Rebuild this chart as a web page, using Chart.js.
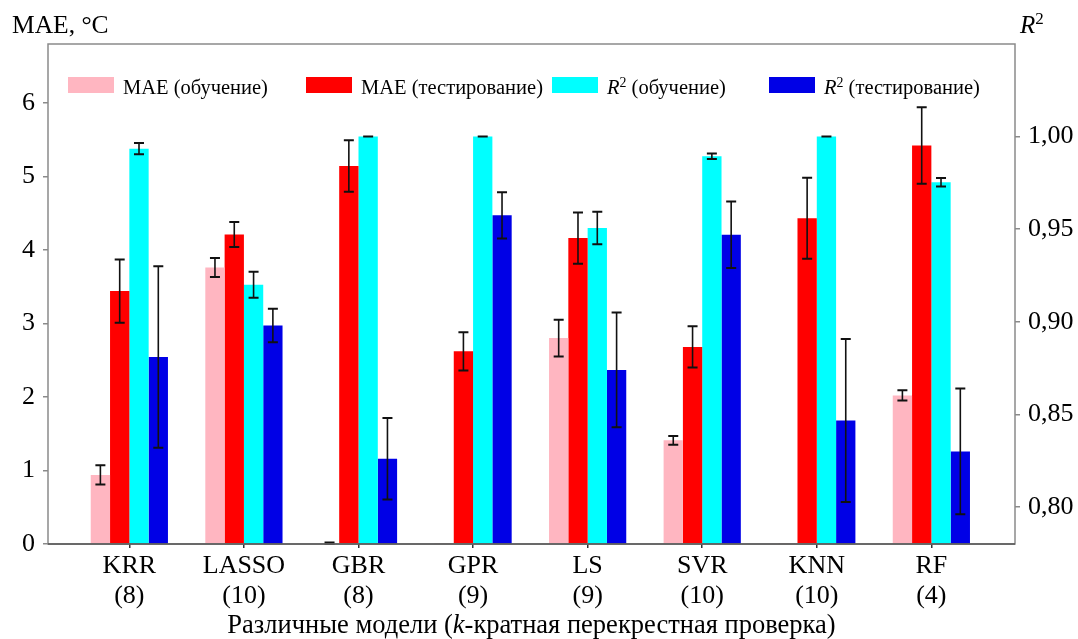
<!DOCTYPE html>
<html>
<head>
<meta charset="utf-8">
<script src="https://cdn.jsdelivr.net/npm/chart.js@4.4.0/dist/chart.umd.min.js"></script>
<style>
html, body { margin: 0; padding: 0; background: #fff; }
#wrap { width: 1078px; height: 639px; position: relative; }
</style>
</head>
<body>
<div id="wrap"><canvas id="modelChart"></canvas></div>
<script>
// models and k for the k-fold cross validation
const models = ['KRR', 'LASSO', 'GBR', 'GPR', 'LS', 'SVR', 'KNN', 'RF'];
const kFolds = ['(8)', '(10)', '(8)', '(9)', '(9)', '(10)', '(10)', '(4)'];

// MAE, °C (left axis)
const maeTrain    = [0.94, 3.76, 0.01, 0.003, 2.80, 1.41, 0.003, 2.02];
const maeTrainErr = [0.13, 0.13, 0.01, null, 0.25, 0.06, null, 0.07];
const maeTest     = [3.44, 4.21, 5.14, 2.62, 4.16, 2.68, 4.43, 5.42];
const maeTestErr  = [0.43, 0.17, 0.35, 0.26, 0.35, 0.28, 0.55, 0.52];

// R2 (right axis)
const r2Train    = [0.9935, 0.920, 1.000, 1.000, 0.9506, 0.9894, 1.000, 0.9753];
const r2TrainErr = [0.003, 0.007, 0, 0, 0.0088, 0.0015, 0, 0.0023];
const r2Test     = [0.881, 0.898, 0.826, 0.9575, 0.874, 0.947, 0.8467, 0.830];
const r2TestErr  = [0.049, 0.009, 0.022, 0.0125, 0.031, 0.018, 0.044, 0.034];

const maeTicks = [0, 1, 2, 3, 4, 5, 6];
const r2Ticks = [0.80, 0.85, 0.90, 0.95, 1.00];

// *italic*  ^superscript^
const seriesLabels = ['MAE (обучение)', 'MAE (тестирование)', '*R*^2^ (обучение)', '*R*^2^ (тестирование)'];
const seriesColors = ['#ffb6c1', '#ff0000', '#00ffff', '#0000e6'];
const leftTitle = 'MAE, °C';
const rightTitle = '*R*^2^';
const bottomTitle = 'Различные модели (*k*-кратная перекрестная проверка)';

const serif = '"Liberation Serif", "Times New Roman", serif';

function points(values) {
	return values.map((v, i) => ({ x: i, y: v }));
}

function parseRich(text) {
	const runs = [];
	let italic = false, sup = false, buf = '';
	for (const ch of text) {
		if (ch === '*' || ch === '^') {
			if (buf) runs.push({ text: buf, italic: italic, sup: sup });
			buf = '';
			if (ch === '*') italic = !italic; else sup = !sup;
		} else {
			buf += ch;
		}
	}
	if (buf) runs.push({ text: buf, italic: italic, sup: sup });
	return runs;
}

function richFont(run, size) {
	return (run.italic ? 'italic ' : '') + (run.sup ? size * 0.68 : size).toFixed(1) + 'px ' + serif;
}

function richWidth(ctx, text, size) {
	let w = 0;
	parseRich(text).forEach(r => { ctx.font = richFont(r, size); w += ctx.measureText(r.text).width; });
	return w;
}

function drawRich(ctx, text, x, y, size, align) {
	if (align === 'center') x -= richWidth(ctx, text, size) / 2;
	ctx.textAlign = 'left';
	ctx.textBaseline = 'alphabetic';
	ctx.fillStyle = '#000';
	parseRich(text).forEach(r => {
		ctx.font = richFont(r, size);
		ctx.fillText(r.text, x, r.sup ? y - size * 0.36 : y);
		x += ctx.measureText(r.text).width;
	});
}

const decorPlugin = {
	id: 'decor',
	afterDatasetsDraw(chart) {
		const ctx = chart.ctx;
		const a = chart.chartArea;
		ctx.save();

		// error bars
		ctx.strokeStyle = '#111';
		chart.data.datasets.forEach((ds, i) => {
			const meta = chart.getDatasetMeta(i);
			const scale = chart.scales[ds.yAxisID];
			meta.data.forEach((bar, j) => {
				const err = ds.errors[j];
				if (err === null) return;
				const v = ds.data[j].y;
				const top = scale.getPixelForValue(v + err);
				const bot = scale.getPixelForValue(v - err);
				ctx.lineWidth = 1.6;
				ctx.beginPath();
				ctx.moveTo(bar.x, top); ctx.lineTo(bar.x, bot);
				ctx.stroke();
				ctx.lineWidth = 2;
				ctx.beginPath();
				ctx.moveTo(bar.x - 5, top); ctx.lineTo(bar.x + 5, top);
				ctx.moveTo(bar.x - 5, bot); ctx.lineTo(bar.x + 5, bot);
				ctx.stroke();
			});
		});

		// frame
		ctx.strokeStyle = '#8a8a8a';
		ctx.lineWidth = 1.5;
		ctx.strokeRect(a.left, a.top, a.right - a.left, a.bottom - a.top);
		ctx.strokeStyle = '#555';
		ctx.beginPath();
		ctx.moveTo(a.left, a.bottom); ctx.lineTo(a.right, a.bottom);
		ctx.stroke();

		// legend inside the plot
		const legendX = [20, 258, 504, 721];
		chart.data.datasets.forEach((ds, i) => {
			const bx = a.left + legendX[i];
			ctx.fillStyle = ds.backgroundColor;
			ctx.fillRect(bx, a.top + 33, 46, 16);
			drawRich(ctx, ds.label, bx + 55, a.top + 50, 20.5);
		});

		// axis titles
		drawRich(ctx, leftTitle, 12, 33, 25.5);
		drawRich(ctx, rightTitle, a.right + 5, 33, 25);
		drawRich(ctx, bottomTitle, (a.left + a.right) / 2, 633, 26.5, 'center');
		ctx.restore();
	}
};

const tickFont = { family: serif, size: 26, lineHeight: 1.15 };

const ctx = document.getElementById('modelChart').getContext('2d');
const modelChart = new Chart(ctx, {
	type: 'bar',
	data: {
		datasets: [
			{ label: seriesLabels[0], data: points(maeTrain), errors: maeTrainErr, backgroundColor: seriesColors[0], yAxisID: 'y' },
			{ label: seriesLabels[1], data: points(maeTest), errors: maeTestErr, backgroundColor: seriesColors[1], yAxisID: 'y' },
			{ label: seriesLabels[2], data: points(r2Train), errors: r2TrainErr, backgroundColor: seriesColors[2], yAxisID: 'y1' },
			{ label: seriesLabels[3], data: points(r2Test), errors: r2TestErr, backgroundColor: seriesColors[3], yAxisID: 'y1' }
		]
	},
	options: {
		responsive: true,
		maintainAspectRatio: false,
		animation: false,
		categoryPercentage: 0.674,
		barPercentage: 1,
		layout: { padding: { top: 44, left: 0, right: 0, bottom: 0 } },
		plugins: {
			legend: { display: false },
			tooltip: { enabled: false }
		},
		scales: {
			x: {
				type: 'linear',
				min: -0.71,
				max: 7.73,
				offset: false,
				afterBuildTicks: s => { s.ticks = models.map((m, i) => ({ value: i })); },
				afterFit: s => { s.height = 95; },
				grid: { offset: false, drawOnChartArea: false, drawTicks: true, tickLength: 4, color: '#333', lineWidth: 1.5 },
				border: { display: false },
				ticks: {
					autoSkip: false,
					maxRotation: 0,
					padding: 3,
					color: '#000',
					font: tickFont,
					callback: v => [models[v], kFolds[v]]
				}
			},
			y: {
				position: 'left',
				min: 0,
				max: 6.8,
				afterBuildTicks: s => { s.ticks = maeTicks.map(v => ({ value: v })); },
				afterFit: s => { s.width = 48; },
				grid: { drawOnChartArea: false, tickLength: 5, color: '#8a8a8a', lineWidth: 1.5 },
				border: { display: false },
				ticks: { padding: 8, color: '#000', font: tickFont }
			},
			y1: {
				position: 'right',
				min: 0.78,
				max: 1.05,
				afterBuildTicks: s => { s.ticks = r2Ticks.map(v => ({ value: v })); },
				afterFit: s => { s.width = 63; },
				grid: { drawOnChartArea: false, tickLength: 5, color: '#8a8a8a', lineWidth: 1.5 },
				border: { display: false },
				ticks: {
					padding: 8,
					color: '#000',
					font: tickFont,
					callback: v => v.toFixed(2).replace('.', ',')
				}
			}
		}
	},
	plugins: [decorPlugin]
});
</script>
</body>
</html>
